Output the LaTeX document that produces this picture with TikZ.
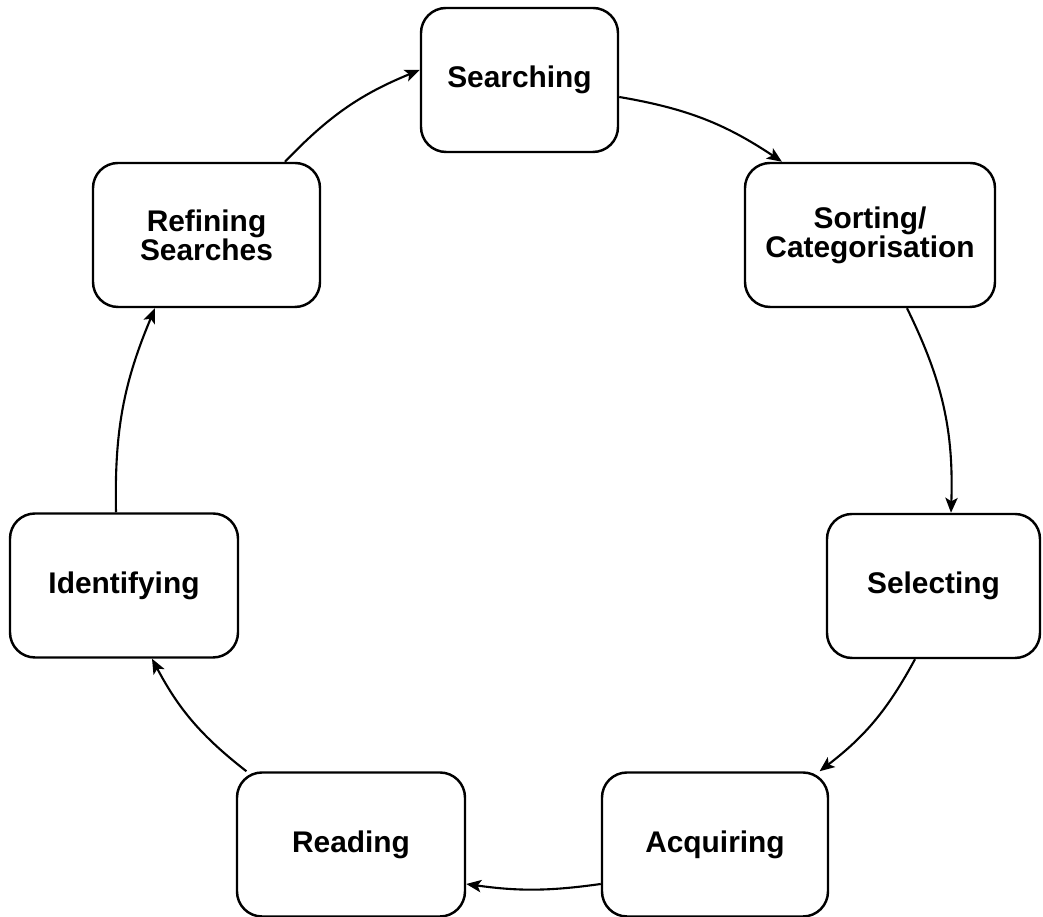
\documentclass[tikz,border=0pt]{standalone}
\usepackage{fontspec}
\setsansfont{Liberation Sans}
\usepackage{tikz}
\usetikzlibrary{arrows.meta}
\tikzset{
  stage/.style={draw, line width=1.4pt, rounded corners=0.5cm, minimum height=2.88cm,
    align=center, font=\sffamily\bfseries\fontsize{17}{16.5}\selectfont},
  cycle/.style={line width=1.2pt, -{Stealth[length=8.5pt,width=7pt,inset=2pt]}}
}

\begin{document}
\begin{tikzpicture}
            \useasboundingbox (0,0) rectangle (20.86,18.34);
            % stages round the circle
            \node[stage, minimum width=3.94cm] (search) at (10.39,16.74) {Searching};
            \node[stage, minimum width=5.0cm] (sort) at (17.40,13.64) {Sorting/\\Categorisation};
            \node[stage, minimum width=4.26cm] (select) at (18.67,6.62) {Selecting};
            \node[stage, minimum width=4.52cm] (acquire) at (14.30,1.45) {Acquiring};
            \node[stage, minimum width=4.56cm] (read) at (7.02,1.45) {Reading};
            \node[stage, minimum width=4.56cm] (identify) at (2.48,6.63) {Identifying};
            \node[stage, minimum width=4.54cm] (refine) at (4.13,13.64) {Refining\\Searches};
            % arrows, clockwise
            \draw[cycle] ([xshift=1.57cm]refine.north) to[bend left=12] ([yshift=0.2cm]search.west);
            \draw[cycle] ([yshift=-0.34cm]search.east) to[bend left=12] ([xshift=-1.76cm]sort.north);
            \draw[cycle] ([xshift=0.74cm]sort.south) to[bend left=14] ([xshift=0.35cm]select.north);
            \draw[cycle] ([xshift=-0.37cm]select.south) to[bend left=12] (acquire.35);
            \draw[cycle] ([yshift=-0.79cm]acquire.west) to[bend left=8] ([yshift=-0.79cm]read.east);
            \draw[cycle] (read.145) to[bend left=12] ([xshift=0.56cm]identify.south);
            \draw[cycle] ([xshift=-0.16cm]identify.north) to[bend left=12] ([xshift=-1.03cm]refine.south);
        \end{tikzpicture}
\end{document}
